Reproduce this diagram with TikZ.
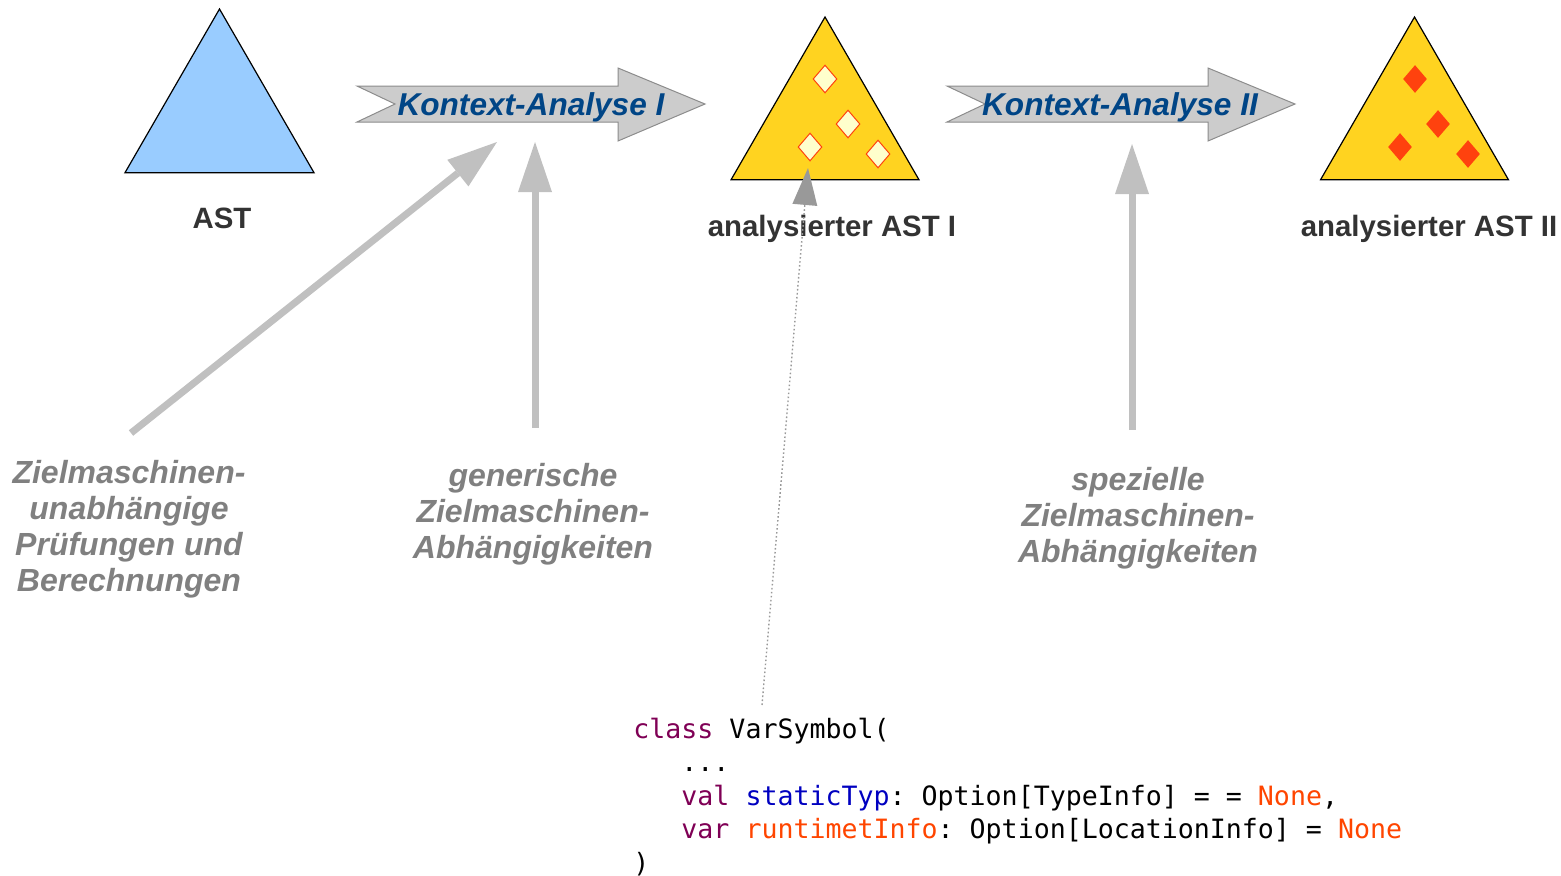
\documentclass[tikz,border=0pt]{standalone}
\usepackage{fontspec}
\setmainfont{Liberation Sans}
\setmonofont{DejaVu Sans Mono}
\usetikzlibrary{shapes.geometric,arrows.meta,positioning}
\definecolor{astblue}{HTML}{99CCFF}
\definecolor{astyellow}{HTML}{FFD320}
\definecolor{attrfill}{HTML}{FFFFCC}
\definecolor{attrred}{HTML}{FF420E}
\definecolor{stagegray}{HTML}{CCCCCC}
\definecolor{stageline}{HTML}{8C8C8C}
\definecolor{stageblue}{HTML}{004586}
\definecolor{hintgray}{HTML}{C0C0C0}
\definecolor{remarkgray}{HTML}{808080}
\definecolor{captiondark}{HTML}{333333}
\definecolor{linkgray}{HTML}{999999}
\definecolor{kwpurple}{HTML}{7F0055}
\definecolor{fieldblue}{HTML}{0000C0}
\definecolor{noneorange}{HTML}{FF4500}
\tikzstyle{tree} = [regular polygon, regular polygon sides=3, draw=black, line width=0.6pt, inner sep=0pt, outer sep=0pt]
\tikzstyle{attr} = [diamond, minimum width=12pt, minimum height=14pt, inner sep=0pt]
\tikzstyle{stage} = [fill=stagegray, draw=stageline, line width=0.5pt]
\tikzstyle{stagetext} = [font=\fontsize{15.8}{19}\selectfont\bfseries\itshape, text=stageblue, inner sep=0pt, anchor=base]
\tikzstyle{caption} = [font=\fontsize{14.7}{17}\selectfont\bfseries, text=captiondark, inner sep=0pt, anchor=base]
\tikzstyle{remark} = [font=\fontsize{16}{18}\selectfont\bfseries\itshape, text=remarkgray, align=center, inner sep=0pt, anchor=base]
\tikzstyle{hint} = [draw=hintgray, line width=3.5pt, -{Triangle[length=25pt,width=17pt,line width=0pt]}]
\tikzstyle{link} = [draw=linkgray, dash pattern=on 0.8pt off 1.2pt, line width=0.7pt, -{Triangle[length=18.5pt,width=12.5pt,line width=0pt,fill=linkgray]}]
\tikzstyle{codeblock} = [font=\fontsize{13.3}{16.75}\selectfont\ttfamily, align=left, inner sep=0pt, anchor=base west]

\begin{document}
\begin{tikzpicture}[x=0.5pt, y=-0.5pt] % one unit = one pixel of the sketch

\useasboundingbox (0,0) rectangle (1561,875);

% Trees
\node (ast)  [tree, fill=astblue,   minimum size=109.1pt] at (219.5,118.1) {};
\node (ana1) [tree, fill=astyellow, minimum size=108.5pt] at (825,125.5)   {};
\node (ana2) [tree, fill=astyellow, minimum size=108.5pt] at (1414.5,125.5) {};

% Attributes in the trees
\foreach \x/\y [count=\i] in {825/79, 848/124, 810/147, 878/154} {
  \node (a1\i) [attr, fill=attrfill, draw=attrred, line width=0.5pt] at (\x,\y) {};
  \node (a2\i) [attr, fill=attrred] at (\x+590,\y) {};
}

\node (astlbl)  [caption] at (222,228)  {AST};
\node (ana1lbl) [caption] at (832,236)  {analysierter AST I};
\node (ana2lbl) [caption] at (1429,236) {analysierter AST II};

% Stages
\draw [stage] (357,86) -- (618,86) -- (618,68) -- (705,104) -- (618,141) -- (618,122) -- (357,122) -- (395,104) -- cycle;
\draw [stage] (947,86) -- (1208,86) -- (1208,68) -- (1295,104) -- (1208,141) -- (1208,122) -- (947,122) -- (985,104) -- cycle;
\node (ka1) [stagetext] at (531,115)  {Kontext-Analyse I};
\node (ka2) [stagetext] at (1120,115) {Kontext-Analyse II};

% Remarks (anchored at the baseline of their last line)
\node (unabh)   [remark] at (129,591)  {Zielmaschinen-\\unabhängige\\Prüfungen und\\Berechnungen};
\node (generic) [remark] at (533,558)  {generische\\Zielmaschinen-\\Abhängigkeiten};
\node (special) [remark] at (1138,562) {spezielle\\Zielmaschinen-\\Abhängigkeiten};

\coordinate (unabhtop)   at (131,433);
\coordinate (generictop) at (535,428);
\coordinate (specialtop) at (1132,430);
\coordinate (ka1foot)    at (497,142);
\coordinate (ka1mid)     at (535,142);
\coordinate (ka2mid)     at (1132,144);

\draw [hint] (unabhtop)   -- (ka1foot);
\draw [hint] (generictop) -- (ka1mid);
\draw [hint] (specialtop) -- (ka2mid);

% Code
\node (code) [codeblock] at (633,872) {\textcolor{kwpurple}{class} VarSymbol(\\
\phantom{val}...\\
\phantom{val}\textcolor{kwpurple}{val} \textcolor{fieldblue}{staticTyp}: Option[TypeInfo] = = \textcolor{noneorange}{None},\\
\phantom{var}\textcolor{kwpurple}{var} \textcolor{noneorange}{runtimetInfo}: Option[LocationInfo] = \textcolor{noneorange}{None}\\
)};

\coordinate (varsym)  at (762,705);
\coordinate (ana1in)  at (808,168);
\draw [link] (varsym) -- (ana1in);

\end{tikzpicture}
\end{document}
